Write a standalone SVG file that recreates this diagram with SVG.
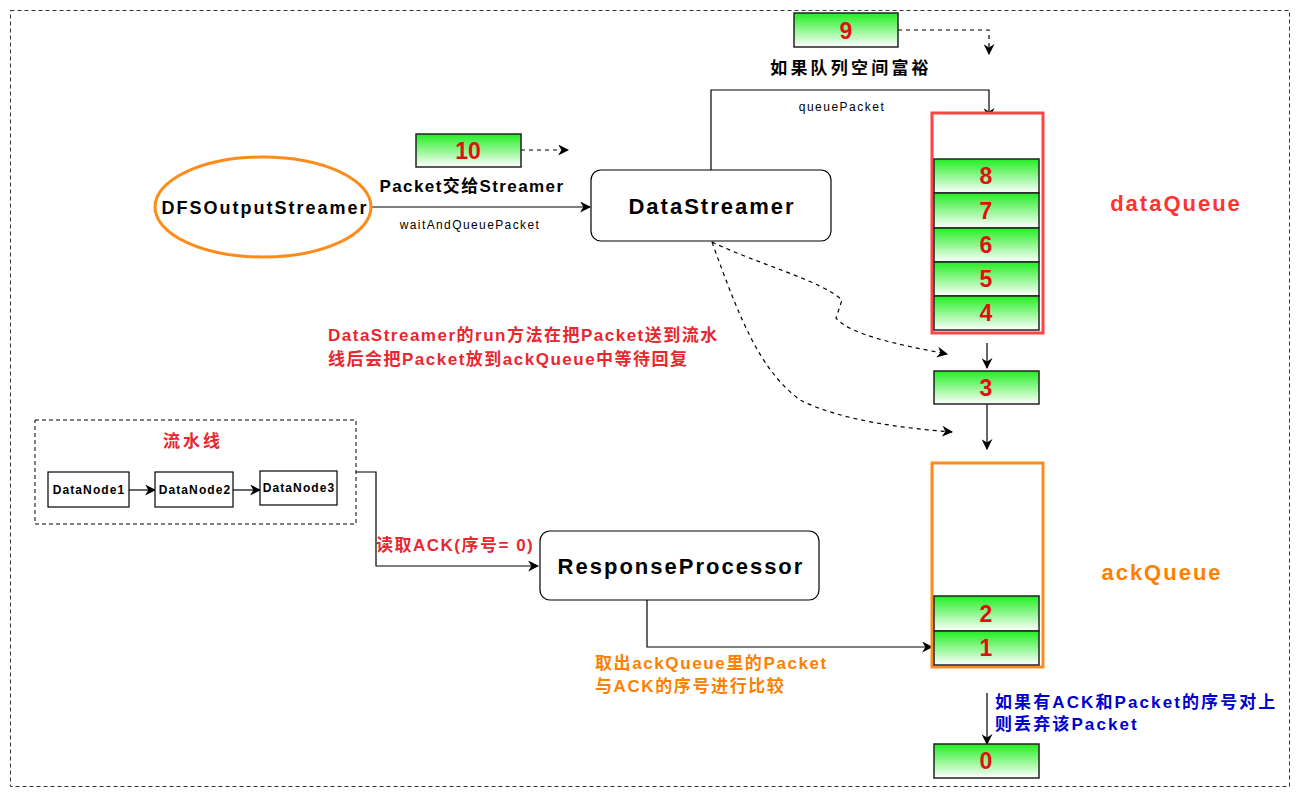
<svg xmlns="http://www.w3.org/2000/svg" width="1299" height="796" viewBox="0 0 1299 796">
<defs>
<linearGradient id="g" x1="0" y1="0" x2="0" y2="1">
<stop offset="0" stop-color="#22EE22"/>
<stop offset="1" stop-color="#FFFFFF"/>
</linearGradient>
<marker id="ab" viewBox="0 0 10 10" refX="9" refY="5" markerWidth="11" markerHeight="11" orient="auto" markerUnits="userSpaceOnUse">
<path d="M0,0 L10,5 L0,10 L3,5 z" fill="#000"/>
</marker>
</defs>
<style>
text{font-family:"Liberation Sans","Noto Sans CJK SC",sans-serif}
.b{font-weight:bold}
.cell{fill:url(#g);stroke:#222;stroke-width:1.5}
.num{font-size:23px;font-weight:bold;fill:#E01010;text-anchor:middle}
.ln{fill:none;stroke:#000;stroke-width:1.2}
.dl{fill:none;stroke:#000;stroke-width:1.2;stroke-dasharray:4 4}
.node{fill:#fff;stroke:#000;stroke-width:1.2}
.dn{font-size:12px;font-weight:bold;text-anchor:middle;letter-spacing:1.1px}
.big{font-size:22px;font-weight:bold;letter-spacing:2px;text-anchor:middle}
</style>
<rect x="10.5" y="10.5" width="1279" height="776" fill="none" stroke="#333" stroke-width="1" stroke-dasharray="4 3"/>

<g id="connectors">
<path class="dl" d="M898,30 H989 V54" marker-end="url(#ab)"/>
<path class="ln" d="M711,170 V90 H989 V118" marker-end="url(#ab)"/>
<path class="dl" d="M521,150 H568" marker-end="url(#ab)"/>
<path class="ln" d="M372,207 H590" marker-end="url(#ab)"/>
<path class="dl" d="M712,242 C760,265 820,280 842,300 L836,318 C850,335 900,345 947,354" marker-end="url(#ab)"/>
<path class="dl" d="M712,242 C740,320 760,370 800,400 C840,420 900,428 952,432" marker-end="url(#ab)"/>
<path class="ln" d="M987,343 V368" marker-end="url(#ab)"/>
<path class="ln" d="M987,404 V449" marker-end="url(#ab)"/>
<path class="ln" d="M129,490 H155" marker-end="url(#ab)"/>
<path class="ln" d="M233,490 H260" marker-end="url(#ab)"/>
<path class="ln" d="M356,472 H376 V566 H538" marker-end="url(#ab)"/>
<path class="ln" d="M647,600 V647 H932" marker-end="url(#ab)"/>
<path class="ln" d="M987,693 V744" marker-end="url(#ab)"/>
</g>

<g id="labels">
<text x="851" y="74" class="b" font-size="17" letter-spacing="3.2" text-anchor="middle">如果队列空间富裕</text>
<text x="842" y="111" font-size="12" letter-spacing="1.5" text-anchor="middle">queuePacket</text>
<text x="472" y="192" class="b" font-size="17" letter-spacing="1.4" text-anchor="middle">Packet交给Streamer</text>
<text x="470" y="229" font-size="12" letter-spacing="1.4" text-anchor="middle">waitAndQueuePacket</text>
<text x="328" y="341" class="b" font-size="17" letter-spacing="1.5" fill="#E8272F">DataStreamer的run方法在把Packet送到流水</text>
<text x="328" y="365" class="b" font-size="17" letter-spacing="1.5" fill="#E8272F">线后会把Packet放到ackQueue中等待回复</text>
<text x="376" y="551" class="b" font-size="17" letter-spacing="1.5" fill="#E8272F">读取ACK(序号= 0)</text>
<text x="595" y="669" class="b" font-size="17" letter-spacing="1.6" fill="#FF8000">取出ackQueue里的Packet</text>
<text x="595" y="692" class="b" font-size="17" letter-spacing="1.6" fill="#FF8000">与ACK的序号进行比较</text>
<text x="995" y="708" class="b" font-size="17" letter-spacing="2.1" fill="#0000CC">如果有ACK和Packet的序号对上</text>
<text x="995" y="730" class="b" font-size="17" letter-spacing="2.1" fill="#0000CC">则丢弃该Packet</text>
<text x="1176" y="211" class="big" fill="#FF3333">dataQueue</text>
<text x="1162" y="580" class="big" fill="#FF8000">ackQueue</text>
</g>

<g id="p9"><rect class="cell" x="794" y="13" width="104" height="34"/><text class="num" x="846" y="39">9</text></g>
<g id="p10"><rect class="cell" x="416" y="134" width="105" height="33"/><text class="num" x="468" y="159">10</text></g>

<g id="dfs">
<ellipse cx="263" cy="207" rx="108" ry="50" fill="#fff" stroke="#FF8C1A" stroke-width="3"/>
<text x="265" y="214" class="b" font-size="18" letter-spacing="2" text-anchor="middle">DFSOutputStreamer</text>
</g>

<g id="datastreamer">
<rect class="node" x="591" y="170" width="240" height="71" rx="10"/>
<text x="712" y="214" class="big">DataStreamer</text>
</g>

<g id="dataQueue">
<rect x="932" y="113" width="111" height="220" fill="#fff" stroke="#FF4444" stroke-width="3"/>
<rect class="cell" x="934" y="159" width="105" height="34"/><text class="num" x="986" y="184">8</text>
<rect class="cell" x="934" y="193" width="105" height="35"/><text class="num" x="986" y="219">7</text>
<rect class="cell" x="934" y="228" width="105" height="34"/><text class="num" x="986" y="253">6</text>
<rect class="cell" x="934" y="262" width="105" height="34"/><text class="num" x="986" y="287">5</text>
<rect class="cell" x="934" y="296" width="105" height="34"/><text class="num" x="986" y="321">4</text>
</g>

<g id="p3"><rect class="cell" x="934" y="371" width="105" height="33"/><text class="num" x="986" y="396">3</text></g>

<g id="ackQueue">
<rect x="932" y="463" width="111" height="204" fill="#fff" stroke="#FF8C1A" stroke-width="3"/>
<rect class="cell" x="934" y="596" width="105" height="35"/><text class="num" x="986" y="622">2</text>
<rect class="cell" x="934" y="631" width="105" height="34"/><text class="num" x="986" y="656">1</text>
</g>

<g id="p0"><rect class="cell" x="934" y="744" width="105" height="34"/><text class="num" x="986" y="769">0</text></g>

<g id="pipeline">
<rect x="35" y="420" width="321" height="104" fill="none" stroke="#000" stroke-width="1" stroke-dasharray="4 3"/>
<text x="193" y="447" class="b" font-size="17" letter-spacing="3" fill="#E8272F" text-anchor="middle">流水线</text>
</g>
<g id="dn1"><rect class="node" x="48" y="472" width="81" height="35"/><text class="dn" x="89" y="494">DataNode1</text></g>
<g id="dn2"><rect class="node" x="155" y="472" width="78" height="35"/><text class="dn" x="195" y="494">DataNode2</text></g>
<g id="dn3"><rect class="node" x="260" y="471" width="77" height="34"/><text class="dn" x="299" y="492">DataNode3</text></g>

<g id="responseprocessor">
<rect class="node" x="540" y="531" width="279" height="69" rx="10"/>
<text x="681" y="574" class="big">ResponseProcessor</text>
</g>
</svg>
